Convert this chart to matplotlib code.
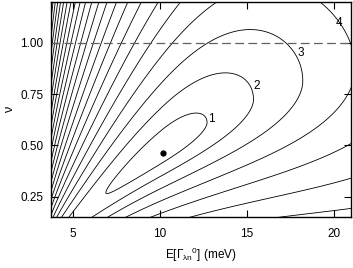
import numpy as np
import matplotlib
matplotlib.use("Agg")
import matplotlib.pyplot as plt

plt.rcParams["font.family"] = ["Liberation Sans", "DejaVu Sans"]
plt.rcParams["mathtext.fontset"] = "custom"
plt.rcParams["mathtext.rm"] = "Liberation Sans"
plt.rcParams["mathtext.it"] = "Liberation Sans:italic"

# best-fit point
best_E = 10.2
best_nu = 0.464

# contour levels (in sigma) and the four labelled ones
levels = list(range(1, 25))
label_text = ["1", "2", "3", "4"]
label_E = [12.97, 15.57, 18.09, 20.3]
label_nu = [0.631, 0.789, 0.951, 1.098]

# valley of the likelihood surface (tips of the closed contours)
valley_E = [6.9, 10.2, 12.7, 15.3, 18.0]
valley_nu = [0.275, 0.464, 0.61, 0.737, 0.80]

# width of one sigma across the valley
up_E = [3.87, 7.14, 10.2, 13.4, 15.1, 19.0]
up_width = [0.0433, 0.0559, 0.0658, 0.081, 0.085, 0.079]      # in sqrt(nu)
low_E = [6.76, 8.37, 10.1, 13.2, 17.0]
low_width = [0.041, 0.054, 0.060, 0.079, 0.095]              # in nu

# one sigma along the valley
along_low = 3.3
along_high = (2.45, 0.028)


def surface(E, nu):
    nu_v = np.polyval(np.polyfit(valley_E, valley_nu, 2), E)
    nu_v = np.clip(nu_v, 1e-3, None)
    w_up = np.polyval(np.polyfit(up_E, up_width, 2), E)
    w_low = np.polyval(np.polyfit(low_E, low_width, 1), E)
    w_low = np.clip(w_low, 5e-3, None)
    g = np.where(nu > nu_v,
                 (np.sqrt(nu) - np.sqrt(nu_v)) / w_up,
                 (nu - nu_v) / w_low)
    d = E - best_E
    h = np.where(d > 0, d / (along_high[0] + along_high[1] * d), d / along_low)
    return np.sqrt(g ** 2 + h ** 2)


E = np.linspace(3.6, 21.5, 700)
nu = np.linspace(0.12, 1.25, 700)
EE, NN = np.meshgrid(E, nu)
Z = surface(EE, NN)

fig = plt.figure(figsize=(3.53, 2.68), dpi=100)
ax = fig.add_axes([0.1445, 0.19, 0.85, 0.8025])
ax.contour(EE, NN, Z, levels=levels, colors="black", linewidths=0.6)
ax.plot([best_E], [best_nu], "o", color="black", markersize=3.5)
ax.axhline(1.0, color="#606060", lw=0.9, ls=(0, (7, 3.5)))
for txt, x, y in zip(label_text, label_E, label_nu):
    ax.text(x, y, txt, ha="center", va="center", fontsize=8.5)

ax.set_xlim(3.75, 21.0)
ax.set_ylim(0.15, 1.2)
ax.set_xticks([5, 10, 15, 20])
ax.set_yticks([0.25, 0.5, 0.75, 1.0])
ax.set_yticklabels(["0.25", "0.50", "0.75", "1.00"])
ax.tick_params(direction="in", top=True, right=True, length=5, width=0.8, labelsize=8.5)
ax.tick_params(axis="x", pad=8)
ax.tick_params(axis="y", pad=5.5)
for sp in ax.spines.values():
    sp.set_linewidth(1.0)
ax.set_xlabel(r"E[Γ$_{\mathrm{λn}}{}^{\mathrm{0}}$] (meV)", fontsize=8.5, labelpad=4)
ax.set_ylabel("ν", fontsize=9, labelpad=3)

fig.savefig("out.png", dpi=100)
